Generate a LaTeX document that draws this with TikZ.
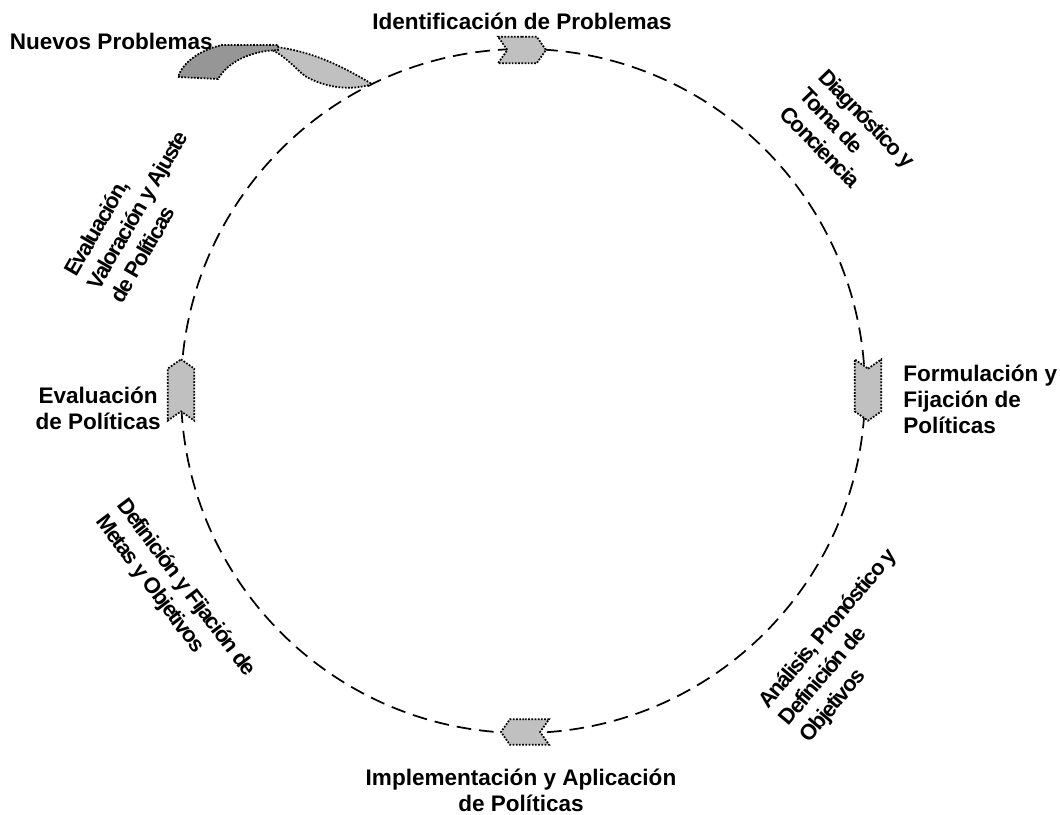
\documentclass[tikz,border=0pt]{standalone}
\usepackage{fontspec}
\setmainfont{Liberation Sans}
\newfontfamily\phasefont[LetterSpace=-7]{Liberation Sans}
\usetikzlibrary{shapes.symbols}
\definecolor{CycleGray}{RGB}{192,192,192}
\definecolor{CycleDark}{RGB}{150,150,150}

\begin{document}
\begin{tikzpicture}[
        x=0.75pt, y=-0.75pt,
        ring/.style={line width=1.3pt, dash pattern=on 11pt off 6pt},
        marker/.style={signal, draw=black, fill=CycleGray, line width=1.3pt, dash pattern=on 1.3pt off 1.1pt, inner sep=0pt, signal pointer angle=110},
        ribbon/.style={draw=black, line width=1.3pt, dash pattern=on 1.3pt off 1.1pt},
        stage/.style={font=\fontsize{16.9}{19.5}\selectfont\bfseries, align=center, inner sep=0pt},
        phase/.style={font=\fontsize{16.5}{20}\phasefont\bfseries, align=left, inner sep=0pt}
    ]
        \useasboundingbox (0,0) rectangle (1060,814);

        % Cycle
        \coordinate (center) at (523,391);
        \draw[ring] (center) circle[radius=342];

        % Markers on the cycle
        \node[marker, signal to=east, signal from=west, minimum width=36pt, minimum height=20pt] (mTop) at (522,50) {};
        \node[marker, signal to=south, signal from=north, minimum width=20pt, minimum height=32pt] (mRight) at (868,390) {};
        \node[marker, signal to=west, signal from=east, minimum width=36pt, minimum height=19pt] (mBottom) at (525,732) {};
        \node[marker, signal to=north, signal from=south, minimum width=20pt, minimum height=32pt] (mLeft) at (181,390) {};

        % New problems arrow
        \draw[ribbon, fill=CycleGray] (268,46) .. controls (310,50) and (340,65) .. (372,84) .. controls (352,91) and (325,88) .. (305,76) .. controls (295,68) and (285,56) .. (272,50) -- cycle;
        \draw[ribbon, fill=CycleDark] (178,77) -- (218,79) .. controls (228,62) and (250,51) .. (278,50) -- (278,45) -- (222,45) .. controls (200,50) and (183,62) .. (178,77) -- cycle;

        % Stages
        \node[stage, anchor=base] (identificacion) at (522,29) {Identificación de Problemas};
        \node[stage, anchor=base east] (nuevos) at (213,49) {Nuevos Problemas};
        \node[stage, anchor=west, align=left] (formulacion) at (903,399) {Formulación y\\Fijación de\\Políticas};
        \node[stage, anchor=east] (evalpol) at (161,408) {Evaluación\\de Políticas};
        \node[stage] (implementacion) at (521,790) {Implementación y Aplicación\\de Políticas};

        % Phases between stages
        \node[phase, rotate=-46] (diagnostico) at (848,137) {Diagnóstico y\\Toma de\\Conciencia};
        \node[phase, rotate=50] (analisis) at (849,646) {Análisis, Pronóstico y\\Definición de\\Objetivos};
        \node[phase, rotate=-53] (definicion) at (175,596) {Definición y Fijación de\\Metas y Objetivos};
        \node[phase, rotate=60] (evaluacion) at (137,210) {Evaluación,\\Valoración y Ajuste\\de Políticas};

    \end{tikzpicture}
\end{document}
